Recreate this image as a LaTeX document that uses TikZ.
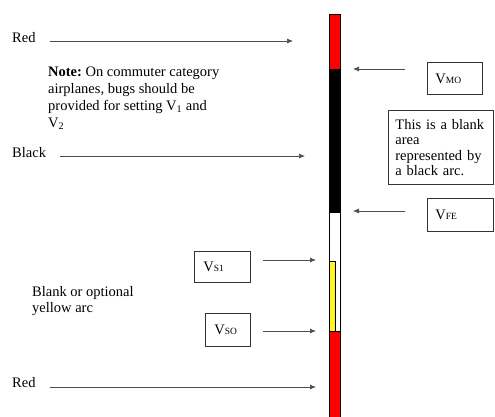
\documentclass[tikz,border=0pt]{standalone}
\usepackage{fontspec}
\setmainfont{Liberation Serif}
\usetikzlibrary{arrows.meta,positioning}

\newcommand{\vspd}[1]{V{\fontsize{9.5}{9.5}\selectfont #1}}

\begin{document}
\begin{tikzpicture}[x=1pt, y=-1pt,
  lbl/.style={inner sep=0pt, anchor=base west, font=\fontsize{14.5}{17}\selectfont},
  txt/.style={inner sep=0pt, anchor=north west, align=left},
  vbox/.style={draw, line width=0.8pt, black!80, text=black, anchor=north west, inner ysep=0pt, inner xsep=9pt, align=left, font=\fontsize{14.5}{16}\selectfont},
  arr/.style={-{Latex[length=6pt,width=5pt]}, line width=0.7pt, black!70},
  seg/.style={draw=black, line width=0.6pt}
]
\useasboundingbox (0,0) rectangle (495,416);

% scale bar
\filldraw[seg, fill=red] (329,14) rectangle (340,69);
\filldraw[seg, fill=black] (329,69) rectangle (340,212);
\filldraw[seg, fill=white] (329,212) rectangle (340,331);
\filldraw[seg, fill=yellow!85!white] (329,261) rectangle (335,331);
\filldraw[seg, fill=red] (329,331) rectangle (340,418);

% points on the bar
\coordinate (r1) at (293,41);
\coordinate (mo) at (353,69);
\coordinate (bk) at (305,156);
\coordinate (fe) at (353,211);
\coordinate (s1) at (316,260);
\coordinate (s0) at (316,331);
\coordinate (r2) at (316,387);

% left labels
\node[lbl] (red1) at (12,42) {Red};
\node[lbl] (black) at (12,157) {Black};
\node[lbl] (red2) at (12,387) {Red};
\node[txt, font=\fontsize{14.5}{17}\selectfont] (note) at (48,67)
  {\textbf{Note:}\ On commuter category\\airplanes, bugs should be\\provided for setting V\textsubscript{1} and\\V\textsubscript{2}};
\node[txt, font=\fontsize{14.5}{16}\selectfont] (blank) at (32,286)
  {Blank or optional\\yellow arc};

% speed boxes
\node[vbox, text width=39pt, minimum height=32pt, inner xsep=8pt] (vmo) at (427,62) {\vspd{MO}};
\node[vbox, text width=38pt, minimum height=31pt] (vs1) at (194,251) {\vspd{S1}};
\node[vbox, text width=27pt, minimum height=33pt] (vso) at (205,313) {\vspd{SO}};
\node[vbox, text width=50pt, minimum height=33pt, inner xsep=8pt] (vfe) at (427,198) {\vspd{FE}};
\node[vbox, text width=91pt, minimum height=74pt, inner xsep=7pt, font=\fontsize{14.5}{15.5}\selectfont] (blk) at (388,110)
  {This is a blank\\area\\represented by\\a black arc.};

% arrows
\coordinate (red1a) at (50,41);
\coordinate (blacka) at (60,156);
\coordinate (red2a) at (50,387);
\coordinate (vmoa) at (405,69);
\coordinate (vfea) at (405,211);
\coordinate (vs1a) at (263,260);
\coordinate (vsoa) at (263,331);
\draw[arr] (red1a) -- (r1);
\draw[arr] (blacka) -- (bk);
\draw[arr] (red2a) -- (r2);
\draw[arr] (vmoa) -- (mo);
\draw[arr] (vfea) -- (fe);
\draw[arr] (vs1a) -- (s1);
\draw[arr] (vsoa) -- (s0);
\end{tikzpicture}
\end{document}
